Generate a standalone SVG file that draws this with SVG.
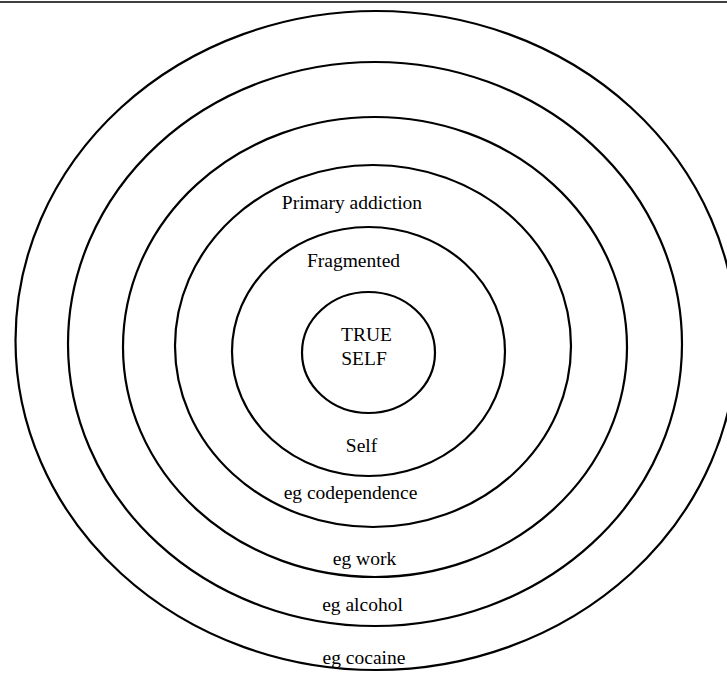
<svg xmlns="http://www.w3.org/2000/svg" width="727" height="675" viewBox="0 0 727 675">
<style>
.ring{fill:none;stroke:#000;stroke-width:2.2}
.lbl{font-family:"Liberation Serif","Times New Roman",serif;font-size:19.5px;fill:#000;text-anchor:middle}
</style>
<rect x="0" y="0" width="727" height="675" fill="#fff"/>
<line x1="0" y1="2" x2="727" y2="2" stroke="#000" stroke-width="1.3"/>
<g id="ring-cocaine">
<ellipse class="ring" cx="376" cy="340.5" rx="360.5" ry="329.5"/>
<text class="lbl" x="364" y="664">eg cocaine</text>
</g>
<g id="ring-alcohol">
<ellipse class="ring" cx="375" cy="344" rx="307" ry="282"/>
<text class="lbl" x="362.5" y="611">eg alcohol</text>
</g>
<g id="ring-work">
<ellipse class="ring" cx="375" cy="347" rx="252" ry="230"/>
<text class="lbl" x="364.5" y="565">eg work</text>
</g>
<g id="ring-primary">
<ellipse class="ring" cx="373" cy="346" rx="198" ry="181"/>
<text class="lbl" x="352" y="209">Primary addiction</text>
<text class="lbl" x="350.5" y="499">eg codependence</text>
</g>
<g id="ring-fragmented">
<ellipse class="ring" cx="368.5" cy="351.5" rx="136.5" ry="124.5"/>
<text class="lbl" x="353.5" y="267">Fragmented</text>
<text class="lbl" x="361.5" y="452">Self</text>
</g>
<g id="true-self">
<ellipse class="ring" cx="368.5" cy="352.5" rx="66.5" ry="60.5"/>
<text class="lbl" x="366.5" y="341">TRUE</text>
<text class="lbl" x="364" y="364.5">SELF</text>
</g>
<g id="connectors"/>
</svg>
